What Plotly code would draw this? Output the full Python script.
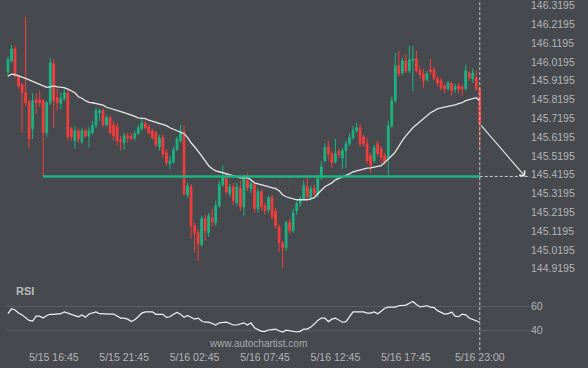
import pandas as pd
import plotly.graph_objects as go

# ---------------- data ----------------
times = pd.date_range("2024-05-15 13:30", periods=135, freq="15min")

opens = [145.967, 146.025, 146.089, 145.946, 145.898, 145.855, 145.807, 145.664, 145.818, 145.818,
         145.813, 145.642, 145.802, 146.009, 145.829, 145.797, 145.823, 145.855, 145.664, 145.600,
         145.653, 145.595, 145.653, 145.626, 145.642, 145.680, 145.749, 145.759, 145.685, 145.722,
         145.685, 145.674, 145.605, 145.589, 145.626, 145.621, 145.616, 145.637, 145.664, 145.690,
         145.674, 145.653, 145.642, 145.568, 145.616, 145.536, 145.478, 145.488, 145.552, 145.600,
         145.648, 145.313, 145.355, 145.148, 145.110, 145.047, 145.185, 145.110, 145.190, 145.164,
         145.254, 145.366, 145.408, 145.318, 145.355, 145.270, 145.345, 145.249, 145.387, 145.345,
         145.366, 145.238, 145.329, 145.254, 145.233, 145.297, 145.227, 145.142, 145.057, 145.031,
         145.164, 145.121, 145.227, 145.265, 145.291, 145.355, 145.297, 145.345, 145.313, 145.403,
         145.493, 145.568, 145.531, 145.488, 145.541, 145.509, 145.547, 145.584, 145.616, 145.653,
         145.669, 145.621, 145.584, 145.520, 145.493, 145.584, 145.557, 145.520, 145.509, 145.680,
         145.813, 145.999, 145.961, 146.025, 145.972, 146.025, 146.036, 145.972, 145.956, 145.924,
         145.977, 145.977, 145.930, 145.919, 145.892, 145.876, 145.903, 145.871, 145.892, 145.887,
         145.876, 145.961, 145.930, 145.935, 145.876]

highs = [146.047, 146.110, 146.105, 145.951, 145.908, 146.259, 145.818, 145.855, 145.850, 145.866,
         145.823, 145.813, 146.041, 146.036, 145.876, 145.855, 145.887, 145.876, 145.674, 145.680,
         145.664, 145.669, 145.664, 145.674, 145.706, 145.775, 145.770, 145.770, 145.738, 145.733,
         145.706, 145.696, 145.626, 145.642, 145.642, 145.642, 145.653, 145.685, 145.717, 145.706,
         145.685, 145.664, 145.653, 145.632, 145.632, 145.557, 145.520, 145.568, 145.621, 145.685,
         145.685, 145.376, 145.371, 145.164, 145.132, 145.201, 145.206, 145.217, 145.238, 145.281,
         145.387, 145.467, 145.430, 145.371, 145.376, 145.376, 145.387, 145.419, 145.430, 145.387,
         145.376, 145.345, 145.339, 145.270, 145.307, 145.313, 145.243, 145.153, 145.068, 145.174,
         145.185, 145.238, 145.281, 145.307, 145.387, 145.414, 145.360, 145.366, 145.419, 145.493,
         145.589, 145.600, 145.547, 145.610, 145.557, 145.563, 145.600, 145.637, 145.680, 145.696,
         145.690, 145.632, 145.616, 145.536, 145.579, 145.600, 145.573, 145.536, 145.706, 145.834,
         146.068, 146.079, 146.041, 146.063, 146.105, 146.105, 146.079, 145.999, 145.983, 145.972,
         146.036, 145.993, 145.946, 145.935, 145.903, 145.919, 145.919, 145.903, 145.908, 145.898,
         146.004, 145.972, 145.983, 145.972, 145.887]

lows = [145.940, 146.015, 145.935, 145.876, 145.642, 145.786, 145.563, 145.610, 145.743, 145.781,
        145.410, 145.621, 145.791, 145.669, 145.759, 145.770, 145.813, 145.600, 145.600, 145.557,
        145.589, 145.584, 145.616, 145.563, 145.632, 145.669, 145.706, 145.674, 145.674, 145.632,
        145.600, 145.573, 145.547, 145.552, 145.589, 145.600, 145.600, 145.632, 145.653, 145.658,
        145.632, 145.605, 145.563, 145.547, 145.509, 145.467, 145.451, 145.478, 145.547, 145.589,
        145.307, 145.297, 145.079, 145.004, 144.961, 145.036, 145.068, 145.089, 145.142, 145.148,
        145.243, 145.355, 145.313, 145.302, 145.259, 145.254, 145.227, 145.201, 145.334, 145.323,
        145.217, 145.217, 145.227, 145.206, 145.217, 145.180, 145.132, 145.009, 144.924, 145.015,
        145.105, 145.110, 145.206, 145.249, 145.281, 145.286, 145.281, 145.302, 145.297, 145.392,
        145.483, 145.493, 145.456, 145.478, 145.509, 145.451, 145.456, 145.573, 145.605, 145.642,
        145.568, 145.568, 145.478, 145.430, 145.483, 145.515, 145.478, 145.472, 145.408, 145.669,
        145.802, 145.940, 145.951, 145.961, 145.961, 145.866, 145.961, 145.930, 145.882, 145.914,
        145.956, 145.919, 145.887, 145.866, 145.855, 145.866, 145.839, 145.855, 145.850, 145.839,
        145.866, 145.919, 145.908, 145.866, 145.557]

closes = [146.031, 146.089, 145.946, 145.892, 145.855, 145.802, 145.610, 145.813, 145.802, 145.802,
          145.642, 145.802, 146.015, 145.813, 145.802, 145.823, 145.855, 145.621, 145.621, 145.653,
          145.610, 145.653, 145.626, 145.653, 145.680, 145.759, 145.759, 145.685, 145.722, 145.642,
          145.626, 145.600, 145.595, 145.626, 145.616, 145.610, 145.637, 145.669, 145.696, 145.669,
          145.642, 145.616, 145.579, 145.616, 145.531, 145.483, 145.493, 145.552, 145.610, 145.653,
          145.318, 145.360, 145.148, 145.110, 145.052, 145.185, 145.121, 145.201, 145.169, 145.254,
          145.366, 145.408, 145.329, 145.355, 145.281, 145.355, 145.249, 145.398, 145.350, 145.371,
          145.238, 145.329, 145.249, 145.227, 145.297, 145.196, 145.148, 145.057, 145.031, 145.164,
          145.121, 145.217, 145.265, 145.291, 145.360, 145.302, 145.345, 145.318, 145.403, 145.462,
          145.563, 145.531, 145.483, 145.531, 145.525, 145.547, 145.584, 145.616, 145.653, 145.669,
          145.584, 145.584, 145.493, 145.467, 145.563, 145.531, 145.509, 145.488, 145.680, 145.813,
          145.999, 145.956, 146.025, 145.972, 146.031, 146.036, 145.972, 145.951, 145.919, 145.956,
          145.967, 145.930, 145.908, 145.882, 145.876, 145.908, 145.866, 145.887, 145.876, 145.876,
          145.972, 145.935, 145.961, 145.876, 145.690]

moving_avg = [145.943, 145.954, 145.951, 145.946, 145.940, 145.932, 145.924, 145.916, 145.908, 145.903,
              145.892, 145.884, 145.887, 145.892, 145.887, 145.884, 145.882, 145.874, 145.866, 145.855,
              145.834, 145.826, 145.813, 145.804, 145.802, 145.798, 145.795, 145.789, 145.778, 145.773,
              145.767, 145.761, 145.754, 145.749, 145.743, 145.738, 145.730, 145.722, 145.719, 145.717,
              145.709, 145.704, 145.698, 145.690, 145.685, 145.680, 145.669, 145.661, 145.653, 145.648,
              145.637, 145.618, 145.589, 145.568, 145.547, 145.520, 145.493, 145.467, 145.451, 145.440,
              145.435, 145.430, 145.427, 145.419, 145.414, 145.408, 145.403, 145.403, 145.403, 145.392,
              145.376, 145.371, 145.366, 145.360, 145.355, 145.350, 145.345, 145.334, 145.313, 145.302,
              145.297, 145.291, 145.286, 145.286, 145.286, 145.286, 145.291, 145.297, 145.318, 145.339,
              145.355, 145.366, 145.376, 145.392, 145.400, 145.408, 145.414, 145.424, 145.435, 145.440,
              145.446, 145.451, 145.454, 145.456, 145.462, 145.464, 145.467, 145.483, 145.499, 145.520,
              145.541, 145.573, 145.600, 145.626, 145.648, 145.669, 145.685, 145.701, 145.722, 145.738,
              145.749, 145.759, 145.770, 145.775, 145.778, 145.781, 145.786, 145.791, 145.797, 145.802,
              145.813, 145.818, 145.823, 145.829, 145.813]

rsi = [54, 58, 57, 54.5, 53, 51, 48.5, 48, 52, 52,
       50.5, 52.5, 53.5, 53.5, 53.7, 54, 55.5, 54.5, 53.5, 52,
       51.5, 53, 51, 53.7, 54.5, 55.5, 54, 53.7, 53.7, 53.7,
       53.7, 52, 50.4, 50.4, 49.5, 47.5, 49, 51.5, 54.5, 55.5,
       55.5, 55.5, 53.5, 53.5, 53.5, 51, 51.5, 53.5, 55, 53.5,
       51, 52.5, 51, 49.5, 50.4, 48, 47, 47, 46, 44.7,
       46.5, 47, 47, 46, 44.7, 44.7, 45.5, 46.5, 44.7, 46.5,
       42.5, 41, 39.5, 39.5, 40.6, 41, 41.4, 40, 39, 40.5,
       40, 39, 39, 39.5, 41.4, 41.4, 43, 45.5, 48.5, 50.4,
       50.4, 47.5, 49.5, 50.4, 49, 47, 47.5, 51.5, 55.5, 55.5,
       55.5, 55.5, 54.5, 54.5, 55.5, 54, 56, 58.5, 59.4, 59.4,
       59.4, 60.5, 61, 61, 62.5, 64, 61.5, 59.5, 60, 60.5,
       59.4, 59, 56.5, 55, 53.7, 54, 55.3, 52, 51.5, 53.7,
       53, 50.5, 49.5, 48, 47]

support_level = 145.410
support_start = "2024-05-15 16:00"
target_time = "2024-05-17 02:13"

price_ticks = [146.3195, 146.2195, 146.1195, 146.0195, 145.9195, 145.8195, 145.7195, 145.6195,
               145.5195, 145.4195, 145.3195, 145.2195, 145.1195, 145.0195, 144.9195]
rsi_ticks = [40, 60]
time_ticks = ["2024-05-15 16:45", "2024-05-15 21:45", "2024-05-16 02:45", "2024-05-16 07:45",
              "2024-05-16 12:45", "2024-05-16 17:45", "2024-05-16 23:00"]
time_labels = ["5/15 16:45", "5/15 21:45", "5/16 02:45", "5/16 07:45",
               "5/16 12:45", "5/16 17:45", "5/16 23:00"]

# ---------------- style ----------------
BG = "#46494e"
GREEN = "#1bb582"
RED = "#f53d3d"
TXT = "#b3b5b8"
FONT = "Liberation Sans, Arial, sans-serif"
X_RANGE = ["2024-05-15 12:56", "2024-05-17 02:34"]
last_t = times[-1]

fig = go.Figure()
fig.add_trace(go.Candlestick(
    x=times, open=opens, high=highs, low=lows, close=closes,
    increasing=dict(line=dict(color=GREEN, width=1), fillcolor=GREEN),
    decreasing=dict(line=dict(color=RED, width=1), fillcolor=RED),
    whiskerwidth=0, showlegend=False, hoverinfo="skip"))
fig.add_trace(go.Scatter(x=times, y=moving_avg, mode="lines",
                         line=dict(color="#e6e6e6", width=1.3), showlegend=False, hoverinfo="skip"))
fig.add_trace(go.Scatter(x=[support_start, last_t], y=[support_level, support_level], mode="lines",
                         line=dict(color=GREEN, width=2.5), showlegend=False, hoverinfo="skip"))
fig.add_trace(go.Scatter(x=[last_t, X_RANGE[1]], y=[support_level, support_level], mode="lines",
                         line=dict(color="#c8c8c8", width=1, dash="3px,2px"), showlegend=False, hoverinfo="skip"))
fig.add_trace(go.Scatter(x=times, y=rsi, mode="lines", yaxis="y2",
                         line=dict(color="#f2f2f2", width=1.2), showlegend=False, hoverinfo="skip"))

# RSI guide lines
for v in rsi_ticks:
    fig.add_shape(type="line", xref="x", yref="y2", x0="2024-05-15 13:25", x1=X_RANGE[1], y0=v, y1=v,
                  line=dict(color="#5d6065", width=1), layer="below")

# vertical dashed line at last bar
fig.add_shape(type="line", xref="x", yref="paper", x0=last_t, x1=last_t, y0=-0.012, y1=1,
              line=dict(color="#c8c8c8", width=1, dash="3px,2px"))

# projection arrow
fig.add_annotation(x=target_time, y=support_level, ax=last_t, ay=closes[-1],
                   xref="x", yref="y", axref="x", ayref="y", text="", showarrow=True,
                   arrowhead=4, arrowsize=1.3, arrowwidth=1.1, arrowcolor="#e6e6e6")

# labels
fig.add_annotation(x=14 / 530, y=0.159, xref="paper", yref="paper", text="<b>RSI</b>", showarrow=False,
                   xanchor="left", yanchor="middle", font=dict(family=FONT, size=11, color="#b8babd"))
fig.add_annotation(x=258 / 530, y=0.006, xref="paper", yref="paper", text="www.autochartist.com",
                   showarrow=False, xanchor="center", yanchor="middle",
                   font=dict(family=FONT, size=10, color="#a7a9ac"))
fig.add_annotation(x=290 / 530, y=1 - 184 / 346, xref="paper", yref="paper", text="autochartist",
                   showarrow=False, xanchor="center", yanchor="middle",
                   font=dict(family=FONT, size=20, color="rgba(255,255,255,0.05)"))

fig.update_layout(
    width=588, height=368, margin=dict(l=0, r=58, t=0, b=22),
    paper_bgcolor=BG, plot_bgcolor=BG, font=dict(family=FONT, size=11, color=TXT),
    xaxis=dict(type="date", range=X_RANGE, anchor="y2", showgrid=False, zeroline=False, showline=False,
               tickvals=time_ticks, ticktext=time_labels, ticks="", rangeslider=dict(visible=False),
               automargin=False, ticklabeloverflow="allow", ticklabelstandoff=3,
               tickfont=dict(family=FONT, size=10.5, color=TXT)),
    yaxis=dict(domain=[0.1618, 1], range=[144.806, 146.3485], side="right", anchor="x",
               showgrid=False, zeroline=False, tickvals=price_ticks, automargin=False,
               ticklabeloverflow="allow",
               ticktext=[f"{v:.4f}" for v in price_ticks], ticks="",
               tickfont=dict(family=FONT, size=10.5, color=TXT)),
    yaxis2=dict(domain=[0, 0.1618], range=[27.5, 73.4], side="right", anchor="x",
                showgrid=False, zeroline=False, tickvals=rsi_ticks, ticks="", automargin=False,
                ticklabeloverflow="allow",
                tickfont=dict(family=FONT, size=10.5, color=TXT)),
)

fig.write_html("out.html", config={"displayModeBar": False},
               post_script="document.body.style.margin='0';document.body.style.overflow='hidden';"
                           "document.body.style.background='" + BG + "';")
